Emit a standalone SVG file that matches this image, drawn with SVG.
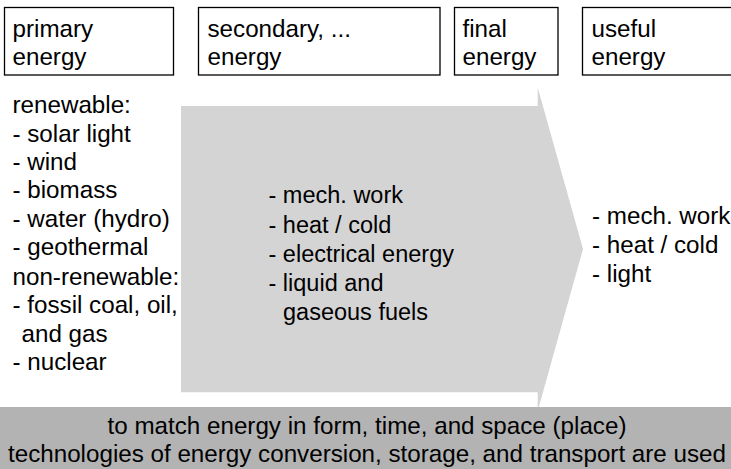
<svg xmlns="http://www.w3.org/2000/svg" width="731" height="469" viewBox="0 0 731 469">
  <style>
    text { font-family: "Liberation Sans", Arial, sans-serif; font-size: 24.2px; fill: #000; }
    .box { fill: #fff; stroke: #000; stroke-width: 1.3; }
    .mid { text-anchor: middle; }
    .inner { font-size: 23.5px; }
  </style>
  <rect width="731" height="469" fill="#fff"/>

  <!-- energy stage headers -->
  <g id="primary-energy">
    <rect class="box" x="4.5" y="7.5" width="169" height="67.5"/>
    <text x="12.5" y="37">primary</text>
    <text x="12.5" y="65">energy</text>
  </g>
  <g id="secondary-energy">
    <rect class="box" x="198.5" y="7.5" width="241.5" height="67.5"/>
    <text x="207.5" y="37">secondary, ...</text>
    <text x="207.5" y="65">energy</text>
  </g>
  <g id="final-energy">
    <rect class="box" x="454.5" y="7.5" width="103.5" height="67.5"/>
    <text x="462.5" y="37">final</text>
    <text x="462.5" y="65">energy</text>
  </g>
  <g id="useful-energy">
    <rect class="box" x="582.5" y="7.5" width="160" height="67.5"/>
    <text x="591.5" y="37">useful</text>
    <text x="591.5" y="65">energy</text>
  </g>

  <!-- conversion arrow -->
  <g id="conversion-arrow">
    <polygon points="181,106 537.7,106 537.7,87.5 583,249 537.7,411 537.7,392.3 181,392.3" fill="#d4d4d4"/>
    <text class="inner" x="268.5" y="203">- mech. work</text>
    <text class="inner" x="268.5" y="232.5">- heat / cold</text>
    <text class="inner" x="268.5" y="262">- electrical energy</text>
    <text class="inner" x="268.5" y="291">- liquid and</text>
    <text class="inner" x="283" y="320">gaseous fuels</text>
  </g>

  <!-- primary energy sources -->
  <g id="sources">
    <text x="12.5" y="113">renewable:</text>
    <text x="12.5" y="141.5">- solar light</text>
    <text x="12.5" y="170">- wind</text>
    <text x="12.5" y="198">- biomass</text>
    <text x="12.5" y="226.5">- water (hydro)</text>
    <text x="12.5" y="255">- geothermal</text>
    <text x="12.5" y="285">non-renewable:</text>
    <text x="12.5" y="313">- fossil coal, oil,</text>
    <text x="21.5" y="341.5">and gas</text>
    <text x="12.5" y="370">- nuclear</text>
  </g>

  <!-- useful energy forms -->
  <g id="useful-forms">
    <text x="592" y="224">- mech. work</text>
    <text x="592" y="253">- heat / cold</text>
    <text x="592" y="281.5">- light</text>
  </g>

  <!-- technology band -->
  <g id="technology-band">
    <rect x="0" y="407" width="731" height="62" fill="#b3b3b3"/>
    <text class="mid" x="367" y="434">to match energy in form, time, and space (place)</text>
    <text class="mid" x="367" y="462">technologies of energy conversion, storage, and transport are used</text>
  </g>
</svg>
